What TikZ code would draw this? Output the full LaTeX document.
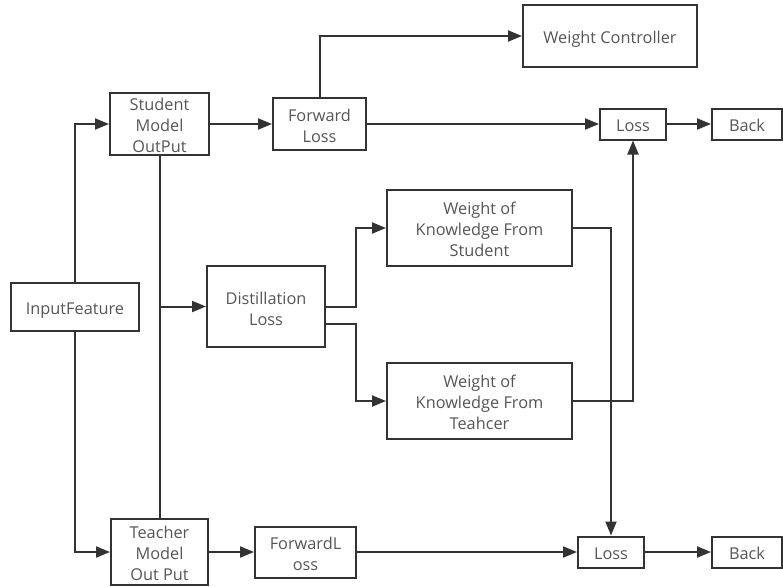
\documentclass[tikz,border=0pt]{standalone}
\usepackage{fontspec}
\setmainfont{Open Sans}
\usetikzlibrary{arrows.meta}
\definecolor{edge}{HTML}{333333}
\definecolor{label}{HTML}{555555}
\tikzset{
  box/.style={draw=edge, line width=2pt, inner sep=0pt, align=center,
    text=label, font=\fontsize{16.3}{21}\selectfont},
  % fixed text boxes so that lines sit on the same grid in every box
  oneline/.style={box, text height=15pt, text depth=0pt},
  twolines/.style={box, text height=37pt, text depth=0pt},
  threelines/.style={box, text height=56pt, text depth=0pt},
  link/.style={draw=edge, line width=2pt},
  arr/.style={link, -{Triangle[length=14pt,width=11pt]}},
}
\begin{document}
\begin{tikzpicture}[x=1pt,y=-1pt]
\useasboundingbox (0,0) rectangle (783,586);

% model outputs and input
\node[oneline, minimum width=128, minimum height=48] (in) at (75,307) {InputFeature};
\node[threelines, minimum width=99, minimum height=62] (stu) at (159.5,124) {Student\\Model\\OutPut};
\node[threelines, minimum width=97, minimum height=66] (tea) at (159.5,552) {Teacher\\Model\\Out Put};

% upper branch
\node[twolines, minimum width=93, minimum height=52] (fl) at (319.5,124) {Forward\\Loss};
\node[oneline, minimum width=174, minimum height=62] (wc) at (610,36) {Weight Controller};
\node[oneline, minimum width=66, minimum height=31] (losst) at (633,124) {Loss};
\node[oneline, minimum width=70, minimum height=31] (backt) at (747,124) {Back};

% distillation branch
\node[twolines, minimum width=118, minimum height=81] (dist) at (266,306.5) {Distillation\\Loss};
\node[threelines, minimum width=185, minimum height=76] (ws) at (479.5,228) {Weight of\\Knowledge From\\Student};
\node[threelines, minimum width=185, minimum height=76] (wt) at (479.5,401) {Weight of\\Knowledge From\\Teahcer};

% lower branch
\node[twolines, minimum width=101, minimum height=51] (fl2) at (305.5,552) {ForwardL\\oss};
\node[oneline, minimum width=66, minimum height=31] (lossb) at (611,552) {Loss};
\node[oneline, minimum width=70, minimum height=31] (backb) at (747,552) {Back};

% connectors
\draw[arr] (in.north) |- (stu.west);
\draw[arr] (in.south) |- (tea.west);
\draw[link] (stu.south) -- (tea.north);
\draw[arr] (stu.south |- dist.west) -- (dist.west);

\draw[arr] (stu.east) -- (fl.west);
\draw[arr] (fl.north) |- (wc.west);
\draw[arr] (fl.east) -- (losst.west);
\draw[arr] (losst.east) -- (backt.west);

\draw[arr] (dist.east) -- ++(30,0) |- (ws.west);
\draw[arr] ([yshift=-17pt]dist.east) -- ++(30,0) |- (wt.west);
\draw[arr] (ws.east) -| (lossb.north);
\draw[arr] (wt.east) -| (losst.south);

\draw[arr] (tea.east) -- (fl2.west);
\draw[arr] (fl2.east) -- (lossb.west);
\draw[arr] (lossb.east) -- (backb.west);
\end{tikzpicture}
\end{document}
